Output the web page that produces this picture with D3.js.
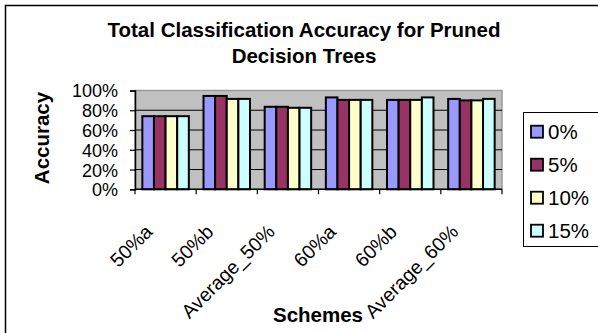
<!DOCTYPE html>
<html><head><meta charset="utf-8">
<script src="https://cdn.jsdelivr.net/npm/d3@7"></script>
<style>html,body{margin:0;padding:0;background:#fff;}svg{display:block;font-family:"Liberation Sans",Arial,sans-serif;}</style>
</head><body>
<script>
const categories = ["50%a","50%b","Average_50%","60%a","60%b","Average_60%"];
const seriesNames = ["0%","5%","10%","15%"];
const values0 = [0.74, 0.945, 0.835, 0.93, 0.905, 0.915];
const values5 = [0.74, 0.945, 0.835, 0.905, 0.905, 0.90];
const values10 = [0.74, 0.915, 0.825, 0.905, 0.905, 0.90];
const values15 = [0.74, 0.915, 0.825, 0.905, 0.93, 0.915];
const yTicks = [0, 0.2, 0.4, 0.6, 0.8, 1.0];
const colors = ["#9999FF","#993366","#FFFFCC","#CCFFFF"];
const allValues = [values0, values5, values10, values15];

(function(){
const W = 598, H = 333;
const svg = d3.select("body").append("svg").attr("width", W).attr("height", H);

// outer chart border (extends beyond the picture at right/bottom)
svg.append("rect").attr("x",5.5).attr("y",5.5).attr("width",620).attr("height",360)
  .attr("fill","#fff").attr("stroke","#000").attr("stroke-width",1.5);

const pLeft = 135, pRight = 502, pTop = 90.5, pBottom = 189.3;
const x0 = d3.scaleBand().domain(categories).range([pLeft, pRight]).paddingInner(0.24).paddingOuter(0.12);
const x1 = d3.scaleBand().domain(seriesNames).range([0, x0.bandwidth()]);
const y = d3.scaleLinear().domain([0, 1]).range([pBottom, pTop]);

// plot area
svg.append("rect").attr("x",pLeft).attr("y",y(1)).attr("width",pRight-pLeft).attr("height",pBottom-y(1))
  .attr("fill","#C0C0C0").attr("stroke","#9a9a9a").attr("stroke-width",1.5);

// gridlines
svg.append("g").selectAll("line").data(yTicks.filter(t=>t>0 && t<1)).join("line")
  .attr("x1",pLeft).attr("x2",pRight).attr("y1",d=>y(d)).attr("y2",d=>y(d))
  .attr("stroke","#000").attr("stroke-width",1);

// bars
const g = svg.append("g");
categories.forEach((c,i)=>{
  seriesNames.forEach((s,j)=>{
    const v = allValues[j][i];
    g.append("rect").attr("x",x0(c)+x1(s)).attr("y",y(v))
      .attr("width",x1.bandwidth()).attr("height",y(0)-y(v))
      .attr("fill",colors[j]).attr("stroke","#000").attr("stroke-width",2);
  });
});

// y axis
const yAxis = d3.axisLeft(y).tickValues(yTicks).tickFormat(d3.format(".0%")).tickSize(5).tickPadding(12);
const ya = svg.append("g").attr("transform",`translate(${pLeft},0)`).call(yAxis);
ya.select(".domain").attr("stroke","#000").attr("stroke-width",1.5);
ya.selectAll(".tick line").attr("stroke","#000").attr("stroke-width",1.2);
ya.selectAll(".tick text").attr("font-size",18).attr("fill","#000")
  .attr("font-family","'Liberation Sans',Arial,sans-serif").attr("dy","0.36em");

// x axis
const step = x0.step();
const boundaries = d3.range(categories.length+1).map(i=>pLeft + i*step);
svg.append("line").attr("x1",pLeft).attr("x2",pRight).attr("y1",pBottom).attr("y2",pBottom)
  .attr("stroke","#000").attr("stroke-width",1.5);
svg.append("g").selectAll("line").data(boundaries).join("line")
  .attr("x1",d=>d).attr("x2",d=>d).attr("y1",pBottom).attr("y2",pBottom+5)
  .attr("stroke","#000").attr("stroke-width",1.2);
svg.append("g").selectAll("text").data(categories).join("text")
  .attr("transform",d=>`translate(${x0(d)+x0.bandwidth()/2-12},${233}) rotate(-45)`)
  .attr("text-anchor","end").attr("font-size",19.5).attr("fill","#000").text(d=>d);

// titles
svg.append("text").attr("x",304).attr("y",36.7).attr("text-anchor","middle")
  .attr("font-size",20.5).attr("font-weight","bold").text("Total Classification Accuracy for Pruned");
svg.append("text").attr("x",304).attr("y",63.3).attr("text-anchor","middle")
  .attr("font-size",20.5).attr("font-weight","bold").text("Decision Trees");
svg.append("text").attr("transform","translate(49,138) rotate(-90)").attr("text-anchor","middle")
  .attr("font-size",20.5).attr("font-weight","bold").text("Accuracy");
svg.append("text").attr("x",318).attr("y",321.7).attr("text-anchor","middle")
  .attr("font-size",20.5).attr("font-weight","bold").text("Schemes");

// legend
const lg = svg.append("g");
lg.append("rect").attr("x",523.5).attr("y",112.5).attr("width",100).attr("height",134)
  .attr("fill","#fff").attr("stroke","#000").attr("stroke-width",1);
const rowY = d3.scalePoint().domain(seriesNames).range([131.7, 230.7]);
seriesNames.forEach((s,j)=>{
  lg.append("rect").attr("x",531).attr("y",rowY(s)-6).attr("width",12).attr("height",12)
    .attr("fill",colors[j]).attr("stroke","#000").attr("stroke-width",1.8);
  lg.append("text").attr("x",548).attr("y",rowY(s)).attr("dy","0.36em")
    .attr("font-size",20.5).attr("fill","#000").text(s);
});
})();
</script>
</body></html>
